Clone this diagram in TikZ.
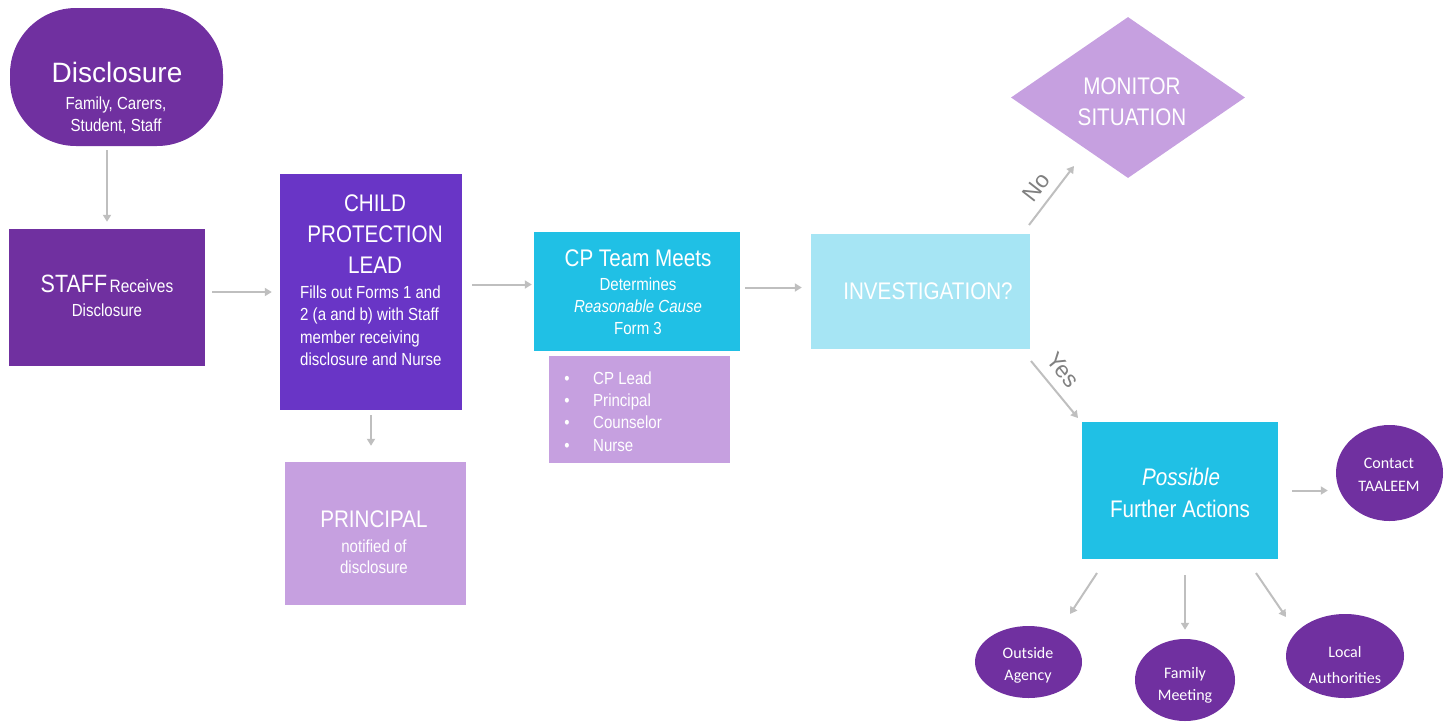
\documentclass[tikz,border=0pt]{standalone}
\usepackage{fontspec}
\setmainfont{Liberation Sans}[FakeStretch=0.86]
\newfontfamily\widefont{Liberation Sans}
\newfontfamily\calfont{Carlito}
\usetikzlibrary{shapes.geometric,arrows.meta}
\definecolor{dpurple}{HTML}{7030A0}
\definecolor{bpurple}{HTML}{6935C6}
\definecolor{lpurple}{HTML}{C6A0E0}
\definecolor{cyanbox}{HTML}{20C0E5}
\definecolor{lcyan}{HTML}{A6E5F4}
\definecolor{arrgray}{HTML}{BFBFBF}
\definecolor{labgray}{HTML}{808080}
\tikzset{
  box/.style={rectangle, draw=none, inner sep=0pt},
  oval/.style={ellipse, draw=none, fill=dpurple, inner sep=0pt},
  txt/.style={anchor=base, text=white, inner sep=0pt},
  ltxt/.style={anchor=base west, text=white, inner sep=0pt},
  arr/.style={draw=arrgray, line width=2pt, -{Triangle[length=7pt,width=8pt]}},
  big/.style={font=\fontsize{24}{28}\selectfont},
  small/.style={font=\fontsize{17.5}{20}\selectfont},
  ctext/.style={txt, font=\calfont\fontsize{16}{19}\selectfont},
  lab/.style={text=labgray, inner sep=0pt, font=\widefont\fontsize{23}{26}\selectfont}
}
\begin{document}
\begin{tikzpicture}[x=1pt,y=-1pt]
\useasboundingbox (0,0) rectangle (1450,721);
% shapes
\node[box, fill=dpurple, rounded corners=66pt, minimum width=213pt, minimum height=138pt] (disc) at (116.5,77) {};
\node[box, fill=dpurple, minimum width=196pt, minimum height=137pt] (staff) at (107,297.5) {};
\node[box, fill=bpurple, minimum width=182pt, minimum height=236pt] (cpl) at (371,292) {};
\node[box, fill=lpurple, minimum width=181pt, minimum height=143pt] (prin) at (375.5,533.5) {};
\node[box, fill=cyanbox, minimum width=206pt, minimum height=119pt] (cp) at (637,291.5) {};
\node[box, fill=lpurple, minimum width=181pt, minimum height=107pt] (team) at (639.5,409.5) {};
\node[box, fill=lcyan, minimum width=219pt, minimum height=115pt] (inv) at (920.5,291.5) {};
\node[diamond, draw=none, fill=lpurple, inner sep=0pt, minimum width=234pt, minimum height=161pt, aspect=1.45] (mon) at (1128,97.5) {};
\node[box, fill=cyanbox, minimum width=196pt, minimum height=137pt] (fa) at (1180,490.5) {};
\node[oval, minimum width=107pt, minimum height=96pt] (contact) at (1389.5,473) {};
\node[oval, minimum width=107pt, minimum height=72pt] (outside) at (1028.5,662) {};
\node[oval, minimum width=100pt, minimum height=82pt] (family) at (1185,680) {};
\node[oval, minimum width=118pt, minimum height=84pt] (local) at (1345,656) {};
% texts
\node[txt, font=\widefont\fontsize{28}{32}\selectfont] (t1) at (117,82) {Disclosure};
\node[txt, small] (t2) at (116,109) {Family, Carers,};
\node[txt, small] (t3) at (116,131) {Student, Staff};
\node[txt] (t4) at (107,292) {{\fontsize{25}{28}\selectfont STAFF} {\fontsize{18}{20}\selectfont Receives}};
\node[txt, small] (t5) at (107,316) {Disclosure};
\node[txt, big] (t6) at (375,211) {CHILD};
\node[txt, big] (t7) at (375,242) {PROTECTION};
\node[txt, big] (t8) at (375,273) {LEAD};
\node[ltxt, small] (t9) at (300,298) {Fills out Forms 1 and};
\node[ltxt, small] (t10) at (300,320) {2 (a and b) with Staff};
\node[ltxt, small] (t11) at (300,343) {member receiving};
\node[ltxt, small] (t12) at (300,365) {disclosure and Nurse};
\node[txt, big] (t13) at (374,527) {PRINCIPAL};
\node[txt, small] (t14) at (374,552) {notified of};
\node[txt, small] (t15) at (374,573) {disclosure};
\node[txt, big] (t16) at (638,266) {CP Team Meets};
\node[txt, small] (t17) at (638,290) {Determines};
\node[txt, small] (t18) at (638,312) {\itshape Reasonable Cause};
\node[txt, small] (t19) at (638,334) {Form 3};
\node[txt, small] (b1) at (567,384) {\textbullet};
\node[txt, small] (b2) at (567,406) {\textbullet};
\node[txt, small] (b3) at (567,428) {\textbullet};
\node[txt, small] (b4) at (567,451) {\textbullet};
\node[ltxt, small] (l1) at (593,384) {CP Lead};
\node[ltxt, small] (l2) at (593,406) {Principal};
\node[ltxt, small] (l3) at (593,428) {Counselor};
\node[ltxt, small] (l4) at (593,451) {Nurse};
\node[txt, big] (t20) at (928,299) {INVESTIGATION?};
\node[txt, big] (t21) at (1132,94) {MONITOR};
\node[txt, big] (t22) at (1132,125) {SITUATION};
\node[txt, big] (t23) at (1181,485) {\itshape Possible};
\node[txt, big] (t24) at (1180,517) {Further Actions};
\node[ctext] (c1) at (1389,468) {Contact};
\node[ctext] (c2) at (1389,491) {TAALEEM};
\node[ctext] (o1) at (1028,658) {Outside};
\node[ctext] (o2) at (1028,680) {Agency};
\node[ctext] (f1) at (1185,678) {Family};
\node[ctext] (f2) at (1185,700) {Meeting};
\node[ctext] (a1) at (1345,657) {Local};
\node[ctext] (a2) at (1345,683) {Authorities};
% connectors
\draw[arr, shorten <=4pt, shorten >=7pt] (disc.south -| staff.north) -- (staff.north);
\draw[arr, shorten <=7pt, shorten >=8pt] (cpl.west -| staff.east) -- (cpl.west);
\draw[arr, shorten <=5pt, shorten >=16pt] (cpl.south) -- (cpl.south |- prin.north);
\draw[arr, shorten <=10pt, shorten >=2pt] ([yshift=7pt]cp.west -| cpl.east) -- ([yshift=7pt]cp.west);
\draw[arr, shorten <=5pt, shorten >=9pt] ([yshift=4pt]inv.west -| cp.east) -- ([yshift=4pt]inv.west);
\coordinate (noS) at (1029,225);
\coordinate (noE) at (1074,166);
\draw[arr] (noS) -- (noE);
\node[lab, rotate=52] (no) at (1036,187) {No};
\coordinate (yesS) at (1031,361);
\coordinate (yesE) at (1078,418);
\draw[arr] (yesS) -- (yesE);
\node[lab, rotate=-51] (yes) at (1063,370) {Yes};
\draw[arr, shorten <=14pt, shorten >=8pt] (fa.east) -- (fa.east -| contact.west);
\coordinate (oS) at (1097,573);
\coordinate (oE) at (1070,614);
\draw[arr] (oS) -- (oE);
\draw[arr, shorten <=16pt, shorten >=9pt] (fa.south -| family.north) -- (family.north);
\coordinate (lS) at (1256,573);
\coordinate (lE) at (1286,617);
\draw[arr] (lS) -- (lE);
\end{tikzpicture}
\end{document}
